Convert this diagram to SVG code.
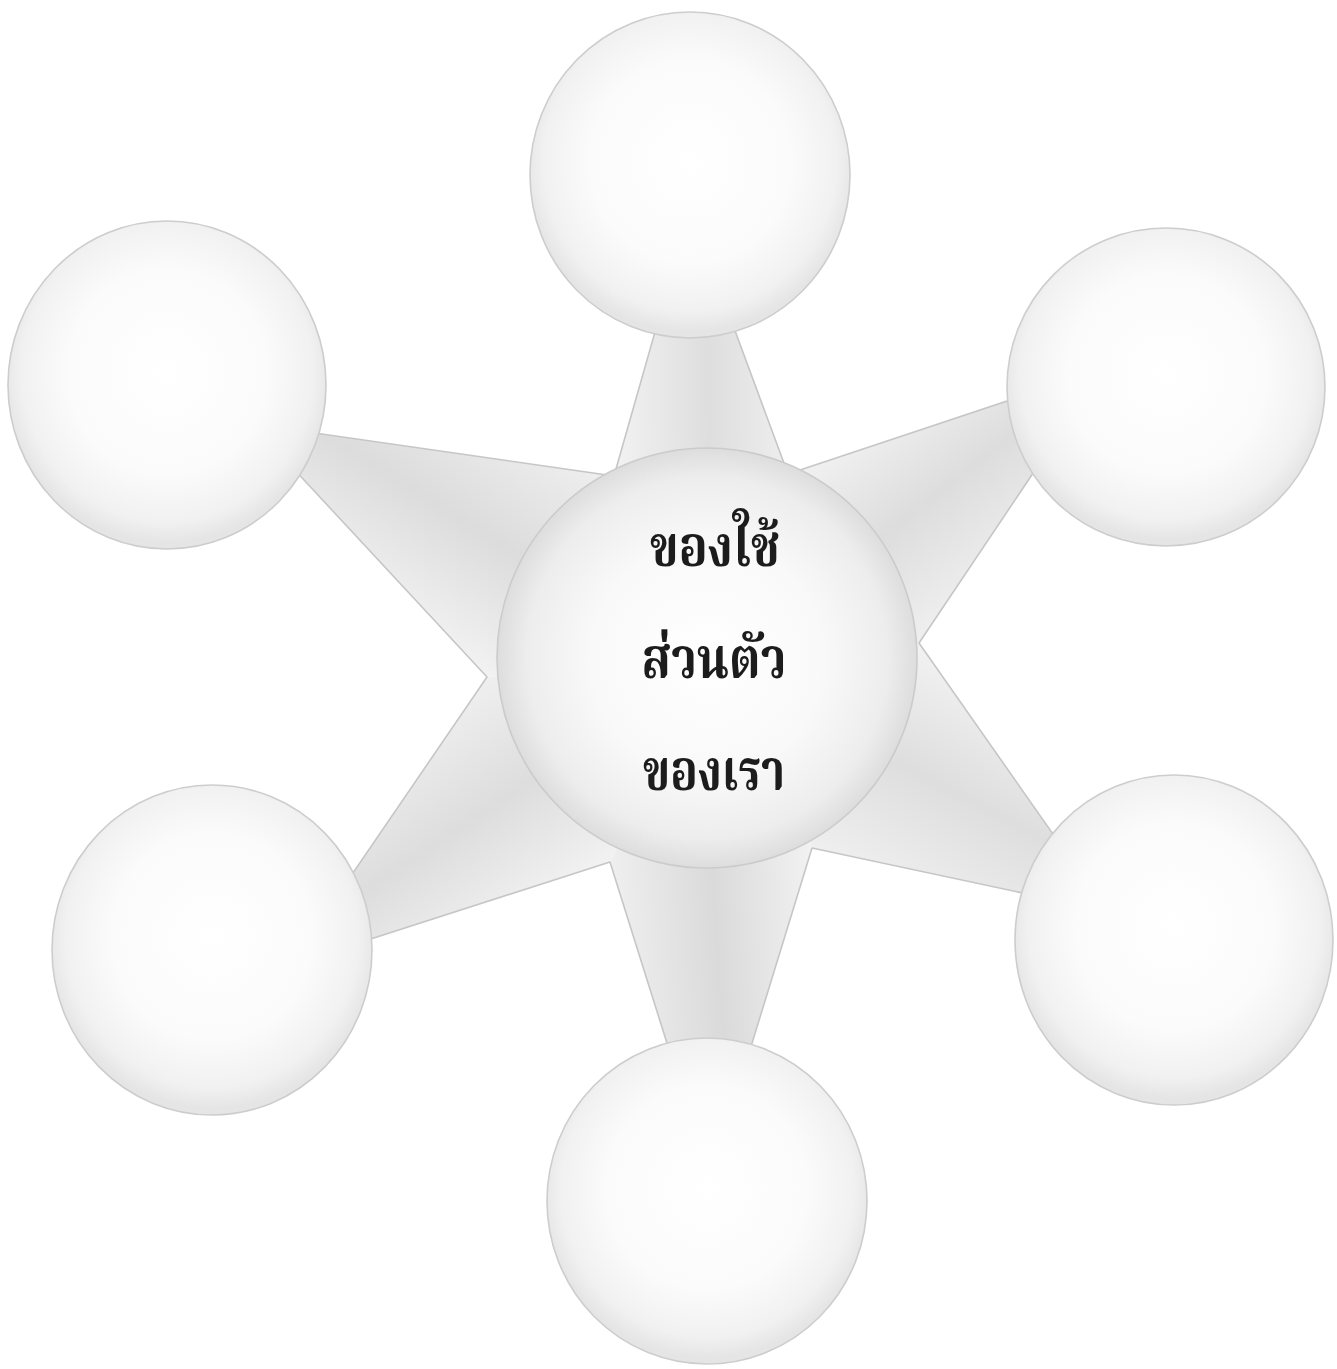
<svg xmlns="http://www.w3.org/2000/svg" width="1337" height="1369" viewBox="0 0 1337 1369">
<defs>
<radialGradient id="sph" cx="50%" cy="46%" r="52%">
<stop offset="0" stop-color="#ffffff"/>
<stop offset="0.6" stop-color="#fbfbfb"/>
<stop offset="0.88" stop-color="#f1f1f1"/>
<stop offset="1" stop-color="#e5e5e5"/>
</radialGradient>
<radialGradient id="sphC" cx="50%" cy="50%" r="50%">
<stop offset="0" stop-color="#ffffff"/>
<stop offset="0.55" stop-color="#f9f9f9"/>
<stop offset="0.86" stop-color="#ededed"/>
<stop offset="1" stop-color="#dddddd"/>
</radialGradient>
<linearGradient id="gT" gradientUnits="userSpaceOnUse" x1="614" y1="476" x2="788" y2="474">
<stop offset="0" stop-color="#f2f2f2"/><stop offset="0.55" stop-color="#dedede"/><stop offset="1" stop-color="#eeeeee"/>
</linearGradient>
<linearGradient id="gUR" gradientUnits="userSpaceOnUse" x1="788" y1="474" x2="919" y2="643">
<stop offset="0" stop-color="#f2f2f2"/><stop offset="0.5" stop-color="#dddddd"/><stop offset="1" stop-color="#efefef"/>
</linearGradient>
<linearGradient id="gLR" gradientUnits="userSpaceOnUse" x1="919" y1="643" x2="812" y2="848">
<stop offset="0" stop-color="#f2f2f2"/><stop offset="0.5" stop-color="#dedede"/><stop offset="1" stop-color="#efefef"/>
</linearGradient>
<linearGradient id="gB" gradientUnits="userSpaceOnUse" x1="812" y1="848" x2="610" y2="862">
<stop offset="0" stop-color="#f2f2f2"/><stop offset="0.5" stop-color="#dadada"/><stop offset="1" stop-color="#efefef"/>
</linearGradient>
<linearGradient id="gLL" gradientUnits="userSpaceOnUse" x1="610" y1="862" x2="487" y2="677">
<stop offset="0" stop-color="#f2f2f2"/><stop offset="0.5" stop-color="#dddddd"/><stop offset="1" stop-color="#efefef"/>
</linearGradient>
<linearGradient id="gUL" gradientUnits="userSpaceOnUse" x1="487" y1="677" x2="614" y2="476">
<stop offset="0" stop-color="#f2f2f2"/><stop offset="0.5" stop-color="#dcdcdc"/><stop offset="1" stop-color="#efefef"/>
</linearGradient>
</defs>
<style>
.ball{fill:url(#sph);stroke:#cdcdcd;stroke-width:1.6}
.core{fill:url(#sphC);stroke:#cbcbcb;stroke-width:1.6}
.edge{fill:none;stroke:#c6c6c6;stroke-width:1.6;stroke-linejoin:round}
.lbl{font-family:"Noto Serif Thai","Noto Sans Thai","Loma","Garuda","Noto Sans","DejaVu Sans",serif;font-weight:bold;font-size:57px;fill:#1c1c1c;text-anchor:middle}
</style>
<rect width="1337" height="1369" fill="#ffffff"/>
<g id="connectors">
<polygon points="690,209 614,476 707,660 788,474" fill="url(#gT)"/>
<polygon points="1103,369 788,474 707,660 919,643" fill="url(#gUR)"/>
<polygon points="1107,911 919,643 707,660 812,848" fill="url(#gLR)"/>
<polygon points="710,1180 812,848 707,660 610,862" fill="url(#gB)"/>
<polygon points="290,965 610,862 707,660 487,677" fill="url(#gLL)"/>
<polygon points="252,424 487,677 707,660 614,476" fill="url(#gUL)"/>
<polygon class="edge" points="690,209 788,474 1103,369 919,643 1107,911 812,848 710,1180 610,862 290,965 487,677 252,424 614,476"/>
</g>
<g id="node-top"><ellipse class="ball" cx="690" cy="175" rx="160" ry="163"/></g>
<g id="node-upper-left"><ellipse class="ball" cx="167" cy="385" rx="159" ry="164"/></g>
<g id="node-upper-right"><ellipse class="ball" cx="1166" cy="387" rx="159" ry="159"/></g>
<g id="node-lower-left"><ellipse class="ball" cx="212" cy="950" rx="160" ry="165"/></g>
<g id="node-lower-right"><ellipse class="ball" cx="1174" cy="940" rx="159" ry="165"/></g>
<g id="node-bottom"><ellipse class="ball" cx="707" cy="1201" rx="160" ry="163"/></g>
<g id="node-center">
<ellipse class="core" cx="707" cy="658" rx="210" ry="210"/>
<text class="lbl" x="715" y="566" textLength="130" lengthAdjust="spacingAndGlyphs">ของใช้</text>
<text class="lbl" x="714" y="678" textLength="145" lengthAdjust="spacingAndGlyphs">ส่วนตัว</text>
<text class="lbl" x="714" y="790" textLength="142" lengthAdjust="spacingAndGlyphs">ของเรา</text>
</g>
</svg>
